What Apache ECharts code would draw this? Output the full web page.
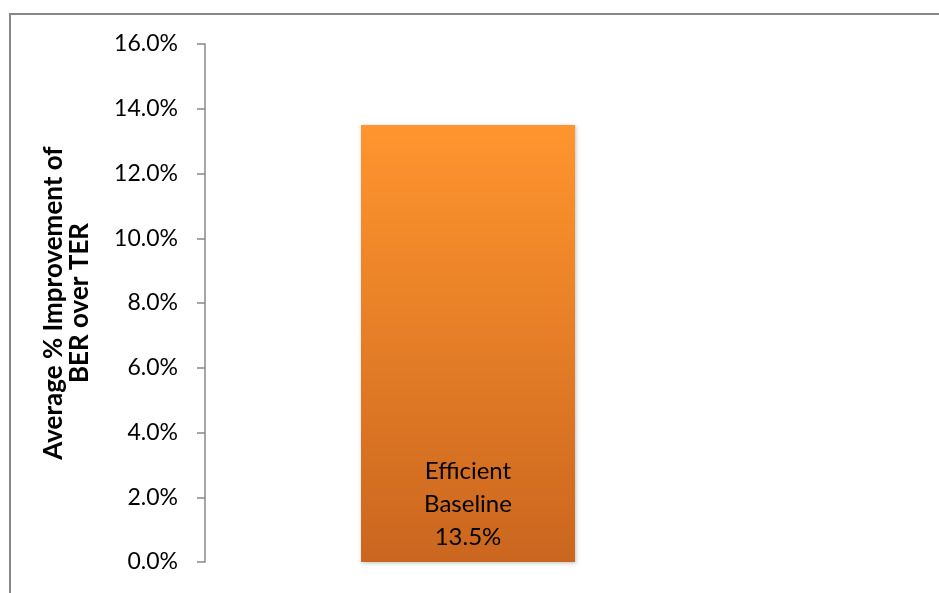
<!DOCTYPE html>
<html>
<head>
<meta charset="utf-8">
<script src="https://cdn.jsdelivr.net/npm/echarts@6/dist/echarts.min.js"></script>
<style>html,body{margin:0;padding:0;background:#fff;}#c{width:939px;height:593px;}</style>
</head>
<body>
<div id="c"></div>
<script>
var categories = ["Efficient Baseline"];
var values = [13.5];
var labelLines = ["Efficient", "Baseline"];
var yMin = 0, yMax = 16, yStep = 2;
var yTitle = "Average % Improvement of\nBER over TER";

var chart = echarts.init(document.getElementById('c'), null, {renderer: 'canvas'});
var font = 'Lato, "Open Sans", sans-serif';
chart.setOption({
  animation: false,
  backgroundColor: '#fff',
  graphic: [{
    type: 'rect', silent: true, z: -1,
    shape: {x: 10, y: 14, width: 1200, height: 1200},
    style: {fill: 'none', stroke: '#888', lineWidth: 2}
  }],
  grid: {left: 205, right: 208, top: 44, bottom: 31, containLabel: false},
  xAxis: {
    type: 'category', data: categories,
    axisLine: {show: false}, axisTick: {show: false}, axisLabel: {show: false}
  },
  yAxis: {
    type: 'value', min: yMin, max: yMax, interval: yStep,
    name: yTitle, nameLocation: 'middle', nameGap: 112, nameRotate: 90,
    nameTextStyle: {fontFamily: font, fontWeight: 'bold', fontSize: 26, color: '#000', lineHeight: 26},
    axisLine: {show: true, lineStyle: {color: '#888', width: 1.5}},
    axisTick: {show: true, length: 8, lineStyle: {color: '#888', width: 1.5}},
    splitLine: {show: false},
    axisLabel: {margin: 27, fontFamily: font, fontSize: 23, color: '#000',
      formatter: function (v) { return v.toFixed(1) + '%'; }}
  },
  series: [{
    type: 'bar', data: values, barWidth: 214,
    itemStyle: {
      color: new echarts.graphic.LinearGradient(0, 0, 0, 1, [
        {offset: 0, color: '#FF952E'}, {offset: 1, color: '#CA661F'}
      ]),
      shadowColor: 'rgba(0,0,0,0.25)', shadowBlur: 4, shadowOffsetX: 1, shadowOffsetY: 1
    },
    label: {
      show: true, position: 'insideBottom', distance: 8,
      fontFamily: font, fontSize: 24, lineHeight: 33, color: '#000', align: 'center',
      formatter: function (p) { return labelLines.join('\n') + '\n' + p.value.toFixed(1) + '%'; }
    }
  }]
});
</script>
</body>
</html>
